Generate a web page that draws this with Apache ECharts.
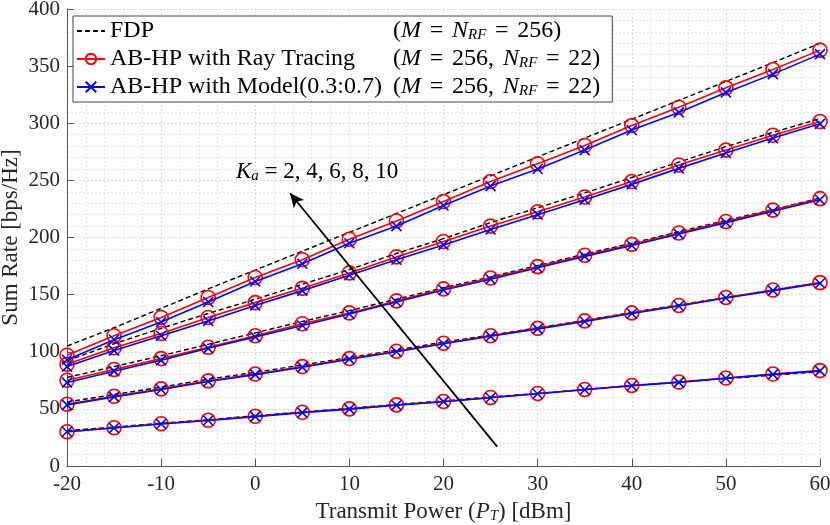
<!DOCTYPE html>
<html>
<head>
<meta charset="utf-8">
<script src="https://cdn.jsdelivr.net/npm/echarts@6/dist/echarts.min.js"></script>
<style>
html,body{margin:0;padding:0;background:#fff;}
#c{width:830px;height:525px;}
</style>
</head>
<body>
<div id="c"></div>
<script>
// ---- data ----
var powers = [-20, -15, -10, -5, 0, 5, 10, 15, 20, 25, 30, 35, 40, 45, 50, 55, 60];

var fdpK2  = [31, 34, 37.5, 40.5, 44, 47.3, 50.5, 54, 57, 60.5, 63.5, 67, 70.5, 73.5, 76.5, 79.5, 82.5];
var rtK2   = [30, 33.5, 37, 40, 43.5, 47, 50, 53.5, 56.5, 60, 63.5, 67, 70.5, 73.5, 77, 80.5, 83.5];
var mdK2   = [30, 33.3, 36.8, 39.8, 43.2, 46.7, 49.8, 53.2, 56.3, 59.7, 63.2, 66.7, 70.2, 73.2, 76.8, 80.2, 83.3];

var fdpK4  = [56, 62.5, 69, 76, 82, 88.5, 95, 101.5, 108.5, 114.5, 121, 127.5, 134.5, 141, 147.5, 154, 160.5];
var rtK4   = [54, 61, 67.5, 74.5, 80.5, 87, 94, 100.5, 107.5, 114, 120.5, 127, 134, 140.5, 147.5, 154, 160.5];
var mdK4   = [53.5, 60.5, 67, 74, 80, 86.5, 93.5, 100, 107, 113.5, 120, 126.5, 133.5, 140, 147, 153.5, 160];

var fdpK6  = [77.5, 87, 96.5, 106.5, 116.5, 126.5, 136, 146, 156, 165.5, 175.5, 185.5, 195, 205, 215, 224.5, 234.5];
var rtK6   = [75, 84.5, 94, 104, 114, 124.5, 134, 144.5, 155, 164.5, 174.5, 184.5, 194, 204, 214, 224, 234];
var mdK6   = [73, 83, 92.5, 103, 113, 123, 133, 143.5, 154, 163.5, 173.5, 183.5, 193, 203, 213, 223, 233];

var fdpK8  = [92, 107, 120.5, 133.5, 146, 159, 172, 186, 199, 213, 226, 239, 252.5, 266, 279.5, 292, 304];
var rtK8   = [89, 103.5, 116, 130, 143, 155.5, 169, 183, 196.5, 210, 222.5, 235.5, 249, 263.5, 276.5, 289.5, 301.5];
var mdK8   = [87, 101, 114, 127, 140.5, 153.5, 167, 180.5, 193.5, 207, 220, 233, 246.5, 260.5, 274, 287, 299.5];

var fdpK10 = [105, 121, 138, 155, 171.5, 188, 204.5, 221, 237.5, 254, 270.5, 287, 303.5, 320, 336.5, 353, 370];
var rtK10  = [97, 114, 130, 147.5, 165, 180.5, 198.5, 214.5, 231.5, 249, 264.5, 280.5, 298, 314, 331, 347, 364];
var mdK10  = [93, 110.5, 126, 143.5, 161.5, 177, 195, 210, 228, 245, 260, 276.5, 294, 309.5, 327, 343, 360.5];

var xTicks = [-20, -10, 0, 10, 20, 30, 40, 50, 60];
var yTicks = [0, 50, 100, 150, 200, 250, 300, 350, 400];

var seriesNames = ['FDP', 'AB-HP with Ray Tracing', 'AB-HP with Model(0.3:0.7)'];
var arrowFrom = [25.7, 16.9];
var arrowTo = [3.7, 238.7];

// ---- chart ----
var SERIF = '"Liberation Serif", "DejaVu Serif", serif';
var TXT = '#262626';
var fdpGroups = [fdpK2, fdpK4, fdpK6, fdpK8, fdpK10];
var rtGroups  = [rtK2, rtK4, rtK6, rtK8, rtK10];
var mdGroups  = [mdK2, mdK4, mdK6, mdK8, mdK10];

function pairs(arr) { return powers.map(function (p, i) { return [p, arr[i]]; }); }

var series = [];
fdpGroups.forEach(function (g, k) {
  var s = {
    name: seriesNames[0], type: 'line', data: pairs(g), symbol: 'circle', showSymbol: false,
    lineStyle: { color: '#000', width: 1.4, type: [5, 3] }, itemStyle: { color: '#000' },
    z: 2, animation: false, silent: true
  };
  if (k === 0) {
    s.markLine = {
      silent: true, symbol: ['none', 'arrow'], symbolSize: [10, 14], animation: false,
      lineStyle: { color: '#000', width: 1.8, type: 'solid' }, label: { show: false },
      data: [[{ coord: arrowFrom }, { coord: arrowTo }]]
    };
  }
  series.push(s);
});
rtGroups.forEach(function (g) {
  series.push({
    name: seriesNames[1], type: 'line', data: pairs(g), symbol: 'circle', symbolSize: 14,
    lineStyle: { color: '#ff0000', width: 1.6 },
    itemStyle: { color: 'rgba(0,0,0,0)', borderColor: '#ff0000', borderWidth: 1.6 },
    z: 3, animation: false, silent: true
  });
});
mdGroups.forEach(function (g) {
  series.push({
    name: seriesNames[2], type: 'line', data: pairs(g),
    symbol: 'path://M0,0L10,10M0,10L10,0', symbolSize: 10,
    lineStyle: { color: '#0000ff', width: 1.6 },
    itemStyle: { color: '#0000ff', borderColor: '#0000ff', borderWidth: 1.6 },
    z: 4, animation: false, silent: true
  });
});

var legendText = {};
legendText[seriesNames[0]] = '{n|FDP}{p|(}{i|M}{e|=}{i|N}{s|RF}{e|=}{p|256)}';
legendText[seriesNames[1]] = '{n|AB-HP with Ray Tracing}{p|(}{i|M}{e|=}{p|256,}{c| }{i|N}{s|RF}{e|=}{p|22)}';
legendText[seriesNames[2]] = '{n|AB-HP with Model(0.3:0.7)}{p|(}{i|M}{e|=}{p|256,}{c| }{i|N}{s|RF}{e|=}{p|22)}';

var LF = 24;
var chart = echarts.init(document.getElementById('c'), null, { renderer: 'canvas' });
chart.setOption({
  animation: false,
  backgroundColor: '#fff',
  grid: { left: 67, right: 10, top: 9, bottom: 59, containLabel: false, outerBoundsMode: 'none' },
  legend: {
    data: [
      { name: seriesNames[0], itemStyle: { color: 'rgba(0,0,0,0)', borderColor: 'rgba(0,0,0,0)', borderWidth: 0 } },
      { name: seriesNames[1] },
      { name: seriesNames[2] }
    ],
    orient: 'vertical', left: 73, top: 16,
    itemWidth: 28, itemHeight: 13, itemGap: 4,
    padding: [3, 12, 3, 3],
    backgroundColor: '#fff', borderColor: '#444', borderWidth: 1, borderRadius: 0,
    selectedMode: false,
    formatter: function (name) { return legendText[name]; },
    textStyle: {
      fontFamily: SERIF, fontSize: LF, color: '#000', lineHeight: 23,
      rich: {
        n: { fontFamily: SERIF, fontSize: LF, color: '#000', width: 283, lineHeight: 23 },
        p: { fontFamily: SERIF, fontSize: LF, color: '#000', lineHeight: 23 },
        e: { fontFamily: SERIF, fontSize: LF, color: '#000', lineHeight: 23, width: 31, align: 'center' },
        c: { fontFamily: SERIF, fontSize: LF, color: '#000', lineHeight: 23, width: 9 },
        i: { fontFamily: SERIF, fontSize: LF, fontStyle: 'italic', color: '#000', lineHeight: 23 },
        s: { fontFamily: SERIF, fontSize: 15, fontStyle: 'italic', color: '#000', lineHeight: 13, verticalAlign: 'bottom' }
      }
    }
  },
  xAxis: {
    type: 'value', min: -20, max: 60, interval: 10,
    name: 'Transmit Power ({i|P}{s|T}) [dBm]', nameLocation: 'middle', nameGap: 34,
    nameMoveOverlap: false,
    nameTextStyle: {
      fontFamily: SERIF, fontSize: 23, color: TXT, lineHeight: 24,
      rich: {
        i: { fontFamily: SERIF, fontSize: 23, fontStyle: 'italic', color: TXT, lineHeight: 24 },
        s: { fontFamily: SERIF, fontSize: 15, fontStyle: 'italic', color: TXT, lineHeight: 14, verticalAlign: 'bottom' }
      }
    },
    axisLine: { show: true, onZero: false, lineStyle: { color: '#555', width: 1 } },
    axisTick: { show: true, inside: true, length: 7, lineStyle: { color: '#555' } },
    minorTick: { show: false, splitNumber: 5 },
    axisLabel: {
      fontFamily: SERIF, fontSize: 21, color: TXT, margin: 8,
      formatter: function (v) { return xTicks.indexOf(v) >= 0 ? String(v) : ''; }
    },
    splitLine: { show: true, lineStyle: { color: '#d9d9d9', width: 1, type: [2, 2] } },
    minorSplitLine: { show: true, lineStyle: { color: '#e2e2e2', width: 1, type: [2, 2] } }
  },
  yAxis: {
    type: 'value', min: 0, max: 400, interval: 50,
    name: 'Sum Rate [bps/Hz]', nameLocation: 'middle', nameGap: 45,
    nameMoveOverlap: false,
    nameTextStyle: { fontFamily: SERIF, fontSize: 23, color: TXT },
    axisLine: { show: true, onZero: false, lineStyle: { color: '#555', width: 1 } },
    axisTick: { show: true, inside: true, length: 7, lineStyle: { color: '#555' } },
    minorTick: { show: false, splitNumber: 5 },
    axisLabel: {
      fontFamily: SERIF, fontSize: 21, color: TXT, margin: 7,
      formatter: function (v) { return yTicks.indexOf(v) >= 0 ? String(v) : ''; }
    },
    splitLine: { show: true, lineStyle: { color: '#d9d9d9', width: 1, type: [2, 2] } },
    minorSplitLine: { show: true, lineStyle: { color: '#e2e2e2', width: 1, type: [2, 2] } }
  },
  graphic: [{
    type: 'text', left: 236, top: 160, silent: true, z: 10,
    style: {
      text: '{i|K}{s|a}{p| = 2, 4, 6, 8, 10}',
      rich: {
        i: { fontFamily: SERIF, fontSize: 23, fontStyle: 'italic', fill: '#000', lineHeight: 24 },
        s: { fontFamily: SERIF, fontSize: 15, fontStyle: 'italic', fill: '#000', lineHeight: 14, verticalAlign: 'bottom' },
        p: { fontFamily: SERIF, fontSize: 23, fill: '#000', lineHeight: 24 }
      }
    }
  }],
  series: series
});
</script>
</body>
</html>
